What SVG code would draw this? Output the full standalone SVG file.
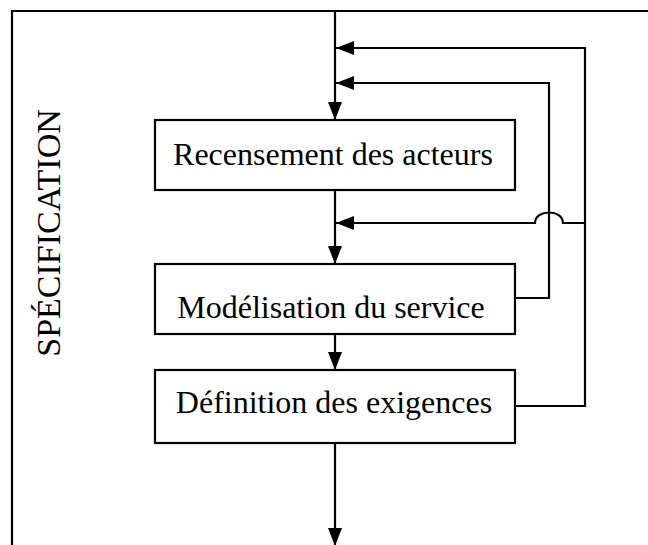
<svg xmlns="http://www.w3.org/2000/svg" width="648" height="545" viewBox="0 0 648 545">
<style>
.ln{fill:none;stroke:#000;stroke-width:2.2}
.box{fill:#fff;stroke:#000;stroke-width:2.2}
.t{font-family:"Liberation Serif","DejaVu Serif",serif;font-size:32px;fill:#000}
.side{font-size:34px}
</style>
<defs>
<marker id="ah" markerUnits="userSpaceOnUse" markerWidth="19" markerHeight="14" refX="18" refY="7" orient="auto">
<path d="M0,0 L18,7 L0,14 z" fill="#000"/>
</marker>
</defs>
<rect width="648" height="545" fill="#fff"/>
<g id="frame">
<path class="ln" d="M12,545 V11 H648"/>
<text class="t side" text-anchor="middle" transform="translate(60,233) rotate(-90)">SPÉCIFICATION</text>
</g>
<g id="connectors">
<path class="ln" d="M335,11 V120" marker-end="url(#ah)"/>
<path class="ln" d="M335,190 V264" marker-end="url(#ah)"/>
<path class="ln" d="M335,334 V370" marker-end="url(#ah)"/>
<path class="ln" d="M335,443 V546" marker-end="url(#ah)"/>
<path class="ln" d="M515,406 H585 V48 H336" marker-end="url(#ah)"/>
<path class="ln" d="M515,298 H549 V83 H336" marker-end="url(#ah)"/>
<path class="ln" d="M585,223 H563 C563,209 535,209 535,223 H336" marker-end="url(#ah)"/>
</g>
<g id="n1">
<rect class="box" x="155" y="120" width="360" height="70"/>
<text class="t" x="333" y="165" text-anchor="middle">Recensement des acteurs</text>
</g>
<g id="n2">
<rect class="box" x="155" y="264" width="360" height="70"/>
<text class="t" x="331" y="318" text-anchor="middle">Modélisation du service</text>
</g>
<g id="n3">
<rect class="box" x="155" y="370" width="360" height="73"/>
<text class="t" x="334" y="413" text-anchor="middle">Définition des exigences</text>
</g>
</svg>
